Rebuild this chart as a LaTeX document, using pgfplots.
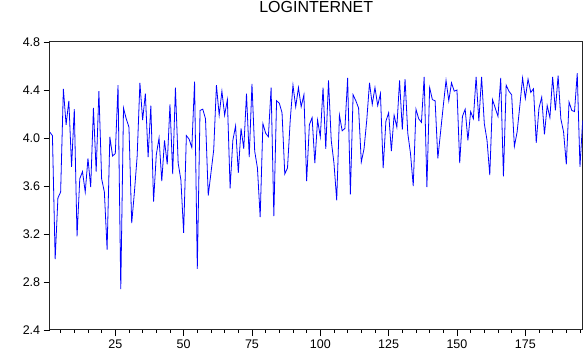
\documentclass[border=0pt]{standalone}
\usepackage{pgfplots}
\pgfplotsset{compat=1.18}
\usepackage{pgfplotstable}
\usepackage{fontspec}
\setmainfont{Liberation Sans}
\pgfplotstableread{
x y
1 4.05
2 4.02
3 2.99
4 3.50
5 3.55
6 4.41
7 4.11
8 4.31
9 3.76
10 4.24
11 3.18
12 3.66
13 3.72
14 3.55
15 3.83
16 3.59
17 4.25
18 3.72
19 4.39
20 3.66
21 3.55
22 3.07
23 4.01
24 3.85
25 3.87
26 4.44
27 2.74
28 4.25
29 4.16
30 4.09
31 3.29
32 3.55
33 3.85
34 4.46
35 4.15
36 4.37
37 3.84
38 4.27
39 3.47
40 3.86
41 4.00
42 3.64
43 3.98
44 3.78
45 4.28
46 3.70
47 4.42
48 3.79
49 3.65
50 3.21
51 4.02
52 3.99
53 3.92
54 4.47
55 2.91
56 4.23
57 4.24
58 4.16
59 3.52
60 3.71
61 3.90
62 4.44
63 4.19
64 4.39
65 4.19
66 4.32
67 3.58
68 3.98
69 4.10
70 3.71
71 4.08
72 3.91
73 4.37
74 3.84
75 4.45
76 3.89
77 3.75
78 3.34
79 4.12
80 4.04
81 4.01
82 4.42
83 3.35
84 4.31
85 4.29
86 4.21
87 3.70
88 3.75
89 4.15
90 4.44
91 4.26
92 4.42
93 4.26
94 4.36
95 3.64
96 4.11
97 4.17
98 3.79
99 4.15
100 4.01
101 4.42
102 3.91
103 4.48
104 3.98
105 3.79
106 3.48
107 4.19
108 4.06
109 4.08
110 4.50
111 3.53
112 4.36
113 4.31
114 4.25
115 3.80
116 3.91
117 4.15
118 4.46
119 4.28
120 4.42
121 4.27
122 4.37
123 3.75
124 4.14
125 4.21
126 3.89
127 4.19
128 4.09
129 4.48
130 4.07
131 4.49
132 4.04
133 3.87
134 3.60
135 4.24
136 4.16
137 4.13
138 4.51
139 3.59
140 4.42
141 4.32
142 4.31
143 3.83
144 4.05
145 4.27
146 4.48
147 4.31
148 4.46
149 4.39
150 4.40
151 3.79
152 4.18
153 4.24
154 3.98
155 4.22
156 4.16
157 4.51
158 4.14
159 4.51
160 4.12
161 3.98
162 3.69
163 4.32
164 4.25
165 4.18
166 4.50
167 3.68
168 4.44
169 4.39
170 4.36
171 3.93
172 4.05
173 4.27
174 4.50
175 4.33
176 4.49
177 4.38
178 4.41
179 3.96
180 4.25
181 4.34
182 4.03
183 4.27
184 4.17
185 4.51
186 4.23
187 4.52
188 4.16
189 4.05
190 3.78
191 4.30
192 4.23
193 4.22
194 4.54
195 3.76
196 4.15
}\datatable
\begin{document}
\begin{tikzpicture}
\path[use as bounding box] (0,0) rectangle (585pt,358pt);
\begin{axis}[
  at={(49.7pt,28pt)}, anchor=south west,
  scale only axis, width=533pt, height=288pt,
  xmin=1, xmax=196, ymin=2.4, ymax=4.8,
  xtick={25,50,75,100,125,150,175},
  minor xtick={5,10,15,20,30,35,40,45,55,60,65,70,80,85,90,95,105,110,115,120,130,135,140,145,155,160,165,170,180,185,190,195},
  ytick={2.4,2.8,3.2,3.6,4.0,4.4,4.8},
  yticklabel style={/pgf/number format/fixed, /pgf/number format/fixed zerofill, /pgf/number format/precision=1},
  /pgf/number format/assume math mode=true,
  tick align=outside,
  xtick pos=bottom, ytick pos=left,
  major tick length=6pt, minor tick length=3pt,
  tick style={black, line width=0.8pt},
  axis line style={black!85, line width=1pt},
  tick label style={font=\fontsize{12.5}{14}\selectfont},
  title={LOGINTERNET},
  title style={at={(0.5,1)}, anchor=center, yshift=29pt, font=\fontsize{16}{18}\selectfont},
]
\addplot[blue, line width=0.8pt, mark=none] table[x=x, y=y] {\datatable};
\end{axis}
\end{tikzpicture}
\end{document}
